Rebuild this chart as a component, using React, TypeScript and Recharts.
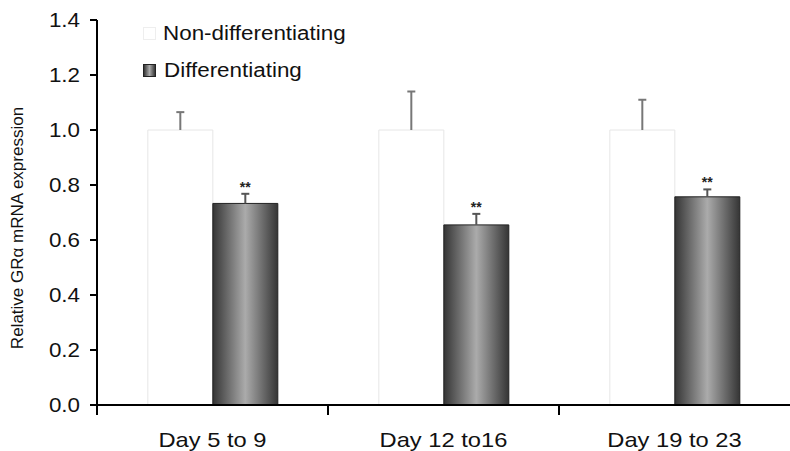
import { BarChart, Bar, XAxis, YAxis, LabelList, Label } from "recharts";

const categories = ["Day 5 to 9", "Day 12 to16", "Day 19 to 23"];
const nonDiff = [1.0, 1.0, 1.0];
const nonDiffErr = [0.065, 0.14, 0.11];
const diff = [0.733, 0.655, 0.757];
const diffErr = [0.035, 0.04, 0.027];
const signif = ["**", "**", "**"];
const yTicks = [0, 0.2, 0.4, 0.6, 0.8, 1.0, 1.2, 1.4];
const seriesNames = ["Non-differentiating", "Differentiating"];

const data = categories.map((name, i) => ({
  name,
  nonDiff: nonDiff[i],
  diff: diff[i],
  star: signif[i],
}));

const W = 790;
const H = 451;
const LEFT = 97;
const FONT = "'Liberation Sans', Arial, sans-serif";

const BoundaryTick = (props: any) => {
  const { x, y, payload } = props;
  const band = (W - LEFT) / categories.length;
  const bx = x - band / 2;
  return (
    <g>
      <line x1={bx} y1={y - 8} x2={bx} y2={y + 2} stroke="#000" strokeWidth={2} />
      <text
        transform={`translate(${x},${y + 34}) scale(1.13,1)`}
        textAnchor="middle"
        fontSize={21}
        fill="#111"
        fontFamily={FONT}
      >
        {payload.value}
      </text>
    </g>
  );
};

const YTick = (props: any) => {
  const { y, payload } = props;
  return (
    <text
      transform={`translate(80,${y}) scale(1.12,1)`}
      textAnchor="end"
      dy="0.36em"
      fontSize={20}
      fill="#111"
      fontFamily={FONT}
    >
      {payload.value.toFixed(1)}
    </text>
  );
};

// upward-only error bar drawn from the bar's own pixel scale
const makeErr = (vals: number[], errs: number[], color: string, stars: boolean) => (props: any) => {
  const { x, y, width, height, index } = props;
  const perUnit = height / vals[index];
  const top = y - errs[index] * perUnit;
  const cx = x + width / 2;
  return (
    <g>
      <line x1={cx} y1={y} x2={cx} y2={top} stroke={color} strokeWidth={2} />
      <line x1={cx - 4} y1={top} x2={cx + 4} y2={top} stroke={color} strokeWidth={2} />
      {stars && (
        <text x={cx} y={top - 2} textAnchor="middle" fontSize={14} fontWeight="bold" fill="#222" fontFamily={FONT}>
          {signif[index]}
        </text>
      )}
    </g>
  );
};

const NonDiffErr = makeErr(nonDiff, nonDiffErr, "#777", false);
const DiffErr = makeErr(diff, diffErr, "#555", true);

const YLabel = (props: any) => {
  return (
    <text
      transform="translate(23,228) rotate(-90)"
      textAnchor="middle"
      fontSize={17}
      fill="#111"
      fontFamily={FONT}
    >
      Relative GRα mRNA expression
    </text>
  );
};

export default function App() {
  return (
    <div style={{ position: "absolute", left: 0, top: 0, width: W, height: H, background: "#fff", fontFamily: FONT }}>
      <BarChart
        width={W}
        height={H}
        data={data}
        margin={{ top: 20, right: 0, left: 0, bottom: 0 }}
        barCategoryGap="22%"
        barGap={0}
      >
        <defs>
          <linearGradient id="gradDiff" x1="0" y1="0" x2="1" y2="0">
            <stop offset="0%" stopColor="#353535" />
            <stop offset="50%" stopColor="#ababab" />
            <stop offset="100%" stopColor="#353535" />
          </linearGradient>
        </defs>
        <XAxis
          dataKey="name"
          height={46}
          axisLine={{ stroke: "#000", strokeWidth: 2 }}
          tickLine={false}
          tick={<BoundaryTick />}
          interval={0}
        />
        <YAxis
          width={LEFT}
          domain={[0, 1.4]}
          ticks={yTicks}
          axisLine={{ stroke: "#000", strokeWidth: 2 }}
          tickLine={{ stroke: "#000", strokeWidth: 2 }}
          tickSize={7}
          tick={<YTick />}
        >
          <Label content={<YLabel />} />
        </YAxis>
        <Bar dataKey="nonDiff" name={seriesNames[0]} fill="#ffffff" stroke="#e6e6e6" strokeWidth={1} isAnimationActive={false}>
          <LabelList dataKey="nonDiff" content={<NonDiffErr />} />
        </Bar>
        <Bar dataKey="diff" name={seriesNames[1]} fill="url(#gradDiff)" stroke="#222" strokeWidth={1} isAnimationActive={false}>
          <LabelList dataKey="star" content={<DiffErr />} />
        </Bar>
      </BarChart>
      <div style={{ position: "absolute", left: 143, top: 21, fontSize: 20, color: "#111", lineHeight: "24px" }}>
        <div style={{ display: "flex", alignItems: "center", height: 24 }}>
          <span style={{ display: "inline-block", width: 11, height: 11, border: "1px solid #eee", background: "#fff", marginRight: 7 }} />
          <span style={{ display: "inline-block", transform: "scaleX(1.12)", transformOrigin: "left center" }}>{seriesNames[0]}</span>
        </div>
        <div style={{ display: "flex", alignItems: "center", height: 24, marginTop: 13 }}>
          <span style={{ display: "inline-block", width: 11, height: 11, border: "1px solid #222", background: "linear-gradient(90deg,#353535,#ababab,#353535)", marginRight: 8 }} />
          <span style={{ display: "inline-block", transform: "scaleX(1.12)", transformOrigin: "left center" }}>{seriesNames[1]}</span>
        </div>
      </div>
    </div>
  );
}
